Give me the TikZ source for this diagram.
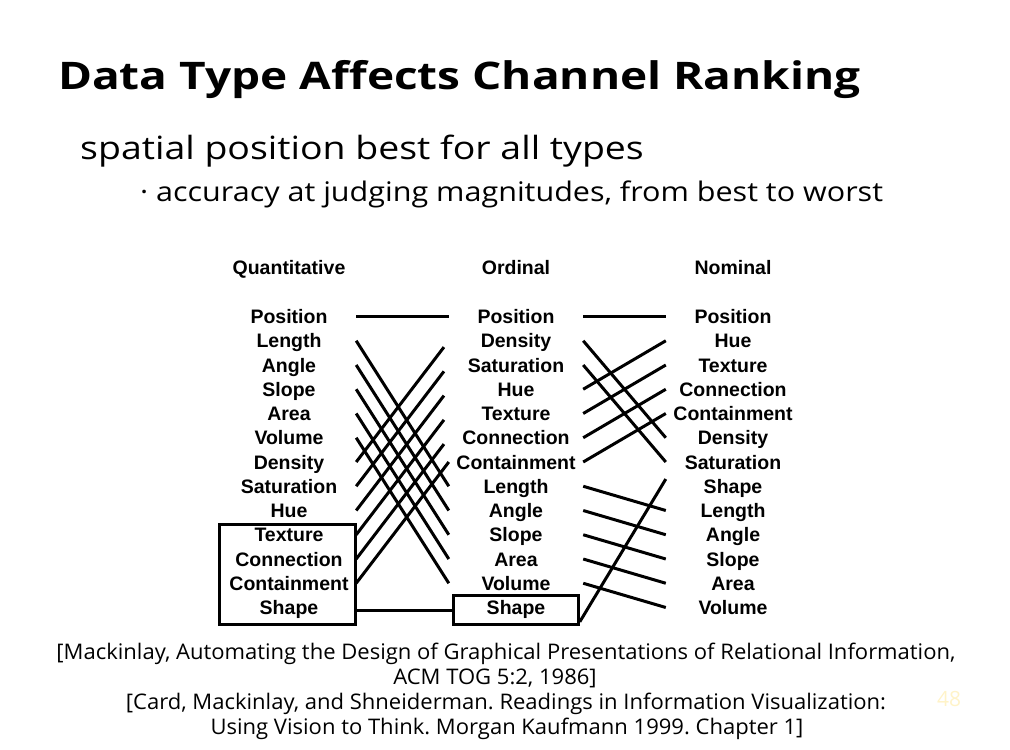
\documentclass[tikz,border=0pt]{standalone}
\usepackage{fontspec}
\setmainfont{Open Sans}
\newfontfamily\chartfont{Liberation Sans}
\usetikzlibrary{calc, positioning}
\definecolor{pagenum}{RGB}{255,243,200}
\frenchspacing
\tikzset{
  lbl/.style={font=\chartfont\bfseries\fontsize{19.5}{20}\selectfont, minimum width=134pt,
    text height=14pt, text depth=0pt, inner sep=0pt},
  ln/.style={line width=3pt},
  bx/.style={draw, line width=3pt, inner sep=0pt},
  reftxt/.style={anchor=base, inner sep=0pt,
    font=\fontsize{21.5}{25}\selectfont\addfontfeature{FakeStretch=1.024}},
}

\begin{document}
\begin{tikzpicture}[x=1pt, y=-1pt]
  \useasboundingbox (0,0) rectangle (1010,750);
  % heading and bullets
  \node[anchor=base west, inner sep=0pt, font=\fontsize{38}{44}\selectfont\bfseries\addfontfeature{FakeStretch=1.21}] (title) at (58,89) {Data Type Affects Channel Ranking};
  \node[anchor=base west, inner sep=0pt, font=\fontsize{32}{36}\selectfont\addfontfeature{FakeStretch=1.17}] (sub) at (80,159) {spatial position best for all types};
  \node[anchor=base west, inner sep=0pt, font=\fontsize{27}{30}\selectfont\addfontfeature{FakeStretch=1.13}] (bul) at (140,201) {· accuracy at judging magnitudes, from best to worst};

  % column heads
  \node[lbl] (qh) at (289,267) {Quantitative};
  \node[lbl] (oh) at (516,267) {Ordinal};
  \node[lbl] (nh) at (733,267) {Nominal};

  % rankings
  \foreach \t [count=\i from 0] in {Position,Length,Angle,Slope,Area,Volume,Density,Saturation,Hue,Texture,Connection,Containment,Shape}
    \node[lbl] (q\i) at (289,316.5+24.25*\i) {\t};
  \foreach \t [count=\i from 0] in {Position,Density,Saturation,Hue,Texture,Connection,Containment,Length,Angle,Slope,Area,Volume,Shape}
    \node[lbl] (o\i) at (516,316.5+24.25*\i) {\t};
  \foreach \t [count=\i from 0] in {Position,Hue,Texture,Connection,Containment,Density,Saturation,Shape,Length,Angle,Slope,Area,Volume}
    \node[lbl] (n\i) at (733,316.5+24.25*\i) {\t};

  \node[bx, minimum width=136pt, minimum height=100pt] (qbox) at (287.6,574.3) {};
  \node[bx, minimum width=125pt, minimum height=28.6pt] (obox) at (515.8,610) {};

  % quantitative -> ordinal
  \draw[ln] (q0.east) -- (o0.west);
  \foreach \a/\b in {1/7,2/8,3/9,4/10,5/11}
    \draw[ln] (q\a.east) -- (o\b.west);
  \foreach \a/\b in {6/1,7/2,8/3,9/4,10/5}
    \draw[ln, shorten >=8pt] (q\a.east) -- (o\b.west);
  \draw[ln] (q11.east) -- (o6.west);
  \draw[ln] (qbox.east |- obox.west) -- (obox.west);

  % ordinal -> nominal
  \draw[ln] (o0.east) -- (n0.west);
  \foreach \a/\b in {1/5,2/6,3/1,4/2,5/3,6/4,7/8,8/9,9/10,10/11,11/12}
    \draw[ln] (o\a.east) -- (n\b.west);
  \draw[ln] ($(obox.south east)+(0,-4)$) -- (n7.north west);

  % references
  \node[reftxt] (ref1) at (506,659) {[Mackinlay, Automating the Design of Graphical Presentations of Relational Information,};
  \node[reftxt] (ref2) at (495,684) {ACM TOG 5:2, 1986]};
  \node[reftxt] (ref3) at (506,709) {[Card, Mackinlay, and Shneiderman. Readings in Information Visualization:};
  \node[reftxt] (ref4) at (507,734) {Using Vision to Think. Morgan Kaufmann 1999. Chapter 1]};
  \node[anchor=base west, inner sep=0pt, text=pagenum, font=\fontsize{21}{26}\selectfont] (pg) at (937,706) {48};
\end{tikzpicture}
\end{document}
